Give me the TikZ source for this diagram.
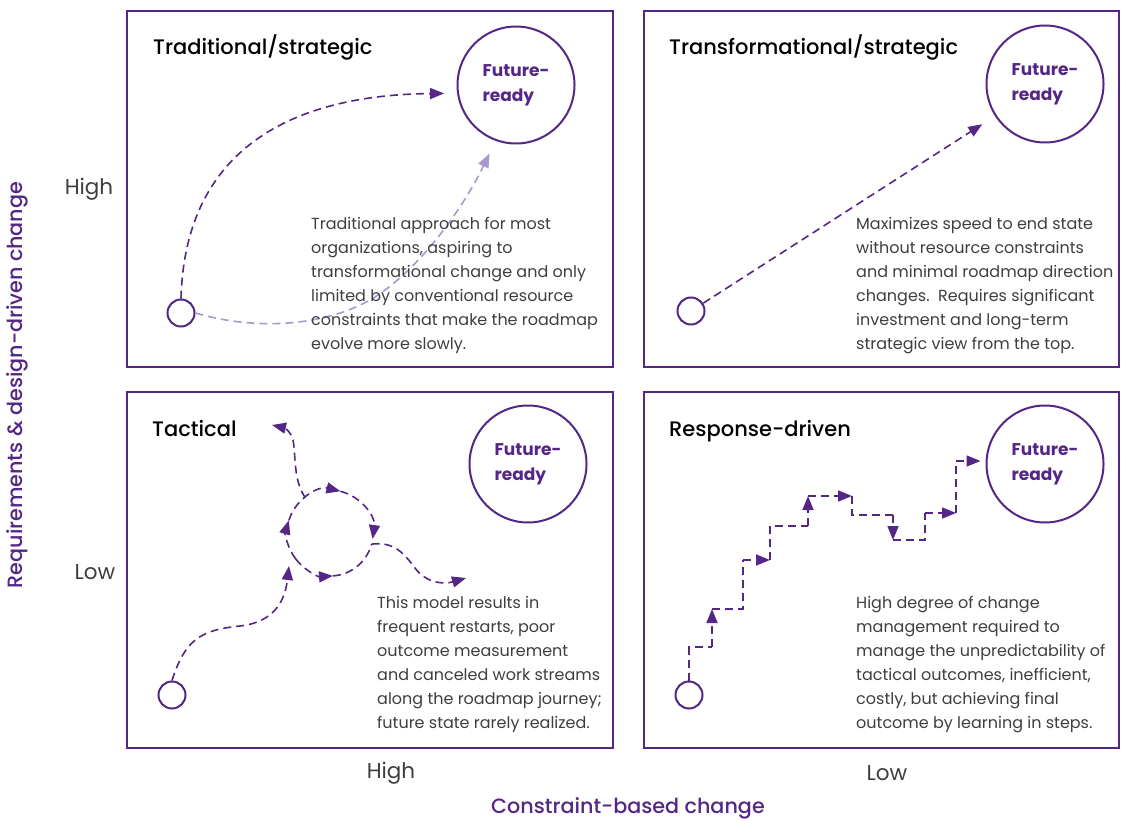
\documentclass[tikz,border=0pt]{standalone}
\usepackage{fontspec}
\setmainfont{Poppins}
\newfontfamily\medium{Poppins Medium}
\usetikzlibrary{arrows.meta}
\definecolor{plum}{RGB}{84,38,134}
\definecolor{lilac}{RGB}{168,152,206}
\definecolor{ink}{RGB}{62,62,62}

\begin{document}
\begin{tikzpicture}[x=1pt,y=-1pt,
    quad/.style={draw=plum,line width=2pt},
    goal/.style={circle,draw=plum,line width=2pt,minimum size=117pt,inner sep=0,align=left,
      text=plum,font=\bfseries\fontsize{17}{25}\selectfont},
    start/.style={circle,draw=plum,line width=2pt,minimum size=27pt,inner sep=0},
    flow/.style={plum,line width=1.6pt,dash pattern=on 8pt off 5pt},
    tip/.style={-{Triangle[length=14pt,width=11pt]}},
    head/.style={anchor=base west,inner sep=0,font=\medium\fontsize{21}{24}\selectfont},
    note/.style={anchor=north west,align=left,inner sep=0,text=ink,font=\fontsize{16}{24}\selectfont},
    axis/.style={text=ink,font=\fontsize{21.5}{24}\selectfont},
    title/.style={text=plum,font=\medium\fontsize{20.7}{24}\selectfont}]
  \useasboundingbox (0,0) rectangle (1121,821);

  \draw[quad] (127,11) rectangle (613,367);
  \draw[quad] (644,11) rectangle (1119,367);
  \draw[quad] (127,392) rectangle (613,748);
  \draw[quad] (644,392) rectangle (1119,748);

  \node[goal] (f1) at (516,85) {Future-\\ready};
  \node[goal] (f2) at (1045,84) {Future-\\ready};
  \node[goal] (f3) at (528,464) {Future-\\ready};
  \node[goal] (f4) at (1045,464) {Future-\\ready};

  \node[start] (s1) at (181,313) {};
  \node[start] (s2) at (691,311) {};
  \node[start] (s3) at (172,695) {};
  \node[start] (s4) at (689,695) {};

  % traditional
  \draw[flow,tip,shorten >=13pt] (s1.north) .. controls (185,150) and (290,95) .. (f1.188);
  \draw[flow,lilac,tip,shorten >=14pt] (s1.east) .. controls (260,332) and (330,325) .. (375,297)
    .. controls (420,268) and (462,210) .. (f1.250);

  % transformational
  \draw[flow,tip,shorten >=15pt] (s2) -- (f2);

  % tactical
  \coordinate (loop) at (330,533);
  \coordinate (in3) at (289,566);
  \coordinate (up3) at (272,425);
  \coordinate (out3) at (466,578);
  \draw[flow,tip] (s3.north) .. controls (185,640) and (200,630) .. (240,626)
    .. controls (275,622) and (285,600) .. (in3);
  \draw[flow,tip] ([shift={(143:43)}]loop) arc[start angle=143,end angle=197,radius=43];
  \draw[flow,tip] ([shift={(197:43)}]loop) arc[start angle=197,end angle=284,radius=43];
  \draw[flow,tip] ([shift={(284:43)}]loop) arc[start angle=284,end angle=368,radius=43];
  \draw[flow,tip] ([shift={(143:43)}]loop) arc[start angle=143,end angle=86,radius=43];
  \draw[flow] ([shift={(86:43)}]loop) arc[start angle=86,end angle=15,radius=43];
  \draw[flow,tip] ([shift={(235:43)}]loop) .. controls (293,480) and (296,455) .. (293,440)
    .. controls (291,432) and (285,428) .. (up3);
  \draw[flow,tip] ([shift={(15:43)}]loop) .. controls (395,541) and (405,555) .. (415,568)
    .. controls (425,582) and (442,585) .. (out3);

  % response-driven
  \coordinate (a1) at (712,647);
  \coordinate (a2) at (712,609);
  \coordinate (b1) at (743,560);
  \coordinate (b2) at (770,560);
  \coordinate (c1) at (808,526);
  \coordinate (c2) at (808,496);
  \coordinate (c3) at (852,496);
  \coordinate (d1) at (893,515);
  \coordinate (d2) at (893,540);
  \coordinate (e1) at (925,513);
  \coordinate (e2) at (956,513);
  \coordinate (e3) at (956,461);
  \draw[flow] (s4.north) |- (a1);
  \draw[flow,tip] (a1) -- (a2);
  \draw[flow] (a2) -| (b1);
  \draw[flow,tip] (b1) -- (b2);
  \draw[flow] (b2) |- (c1);
  \draw[flow,tip] (c1) -- (c2);
  \draw[flow,tip] (c2) -- (c3);
  \draw[flow] (c3) |- (d1);
  \draw[flow,tip] (d1) -- (d2);
  \draw[flow] (d2) -| (e1);
  \draw[flow,tip] (e1) -- (e2);
  \draw[flow] (e2) -- (e3);
  \draw[flow,tip,shorten >=5pt] (e3) -- (e3 -| f4.west);

  \node[head] (h1) at (153,55) {Traditional/strategic};
  \node[head] (h2) at (669,55) {Transformational/strategic};
  \node[head] (h3) at (152,436) {Tactical};
  \node[head] (h4) at (669,436) {Response-driven};

  \node[note] (n1) at (311,217) {Traditional approach for most\\organizations, aspiring to\\transformational change and only\\limited by conventional resource\\constraints that make the roadmap\\evolve more slowly.};
  \node[note] (n2) at (856,217) {Maximizes speed to end state\\without resource constraints\\and minimal roadmap direction\\changes.\ \ Requires significant\\investment and long-term\\strategic view from the top.};
  \node[note] (n3) at (377,596) {This model results in\\frequent restarts, poor\\outcome measurement\\and canceled work streams\\along the roadmap journey;\\future state rarely realized.};
  \node[note] (n4) at (856,596) {High degree of change\\management required to\\manage the unpredictability of\\tactical outcomes, inefficient,\\costly, but achieving final\\outcome by learning in steps.};

  \node[axis] (yhi) at (89,189) {High};
  \node[axis] (ylo) at (95,572) {Low};
  \node[axis] (xhi) at (391,773) {High};
  \node[axis] (xlo) at (887,773) {Low};
  \node[title] (xlab) at (628,808) {Constraint-based change};
  \node[title,rotate=90] (ylab) at (17,385) {Requirements \& design-driven change};
\end{tikzpicture}
\end{document}
